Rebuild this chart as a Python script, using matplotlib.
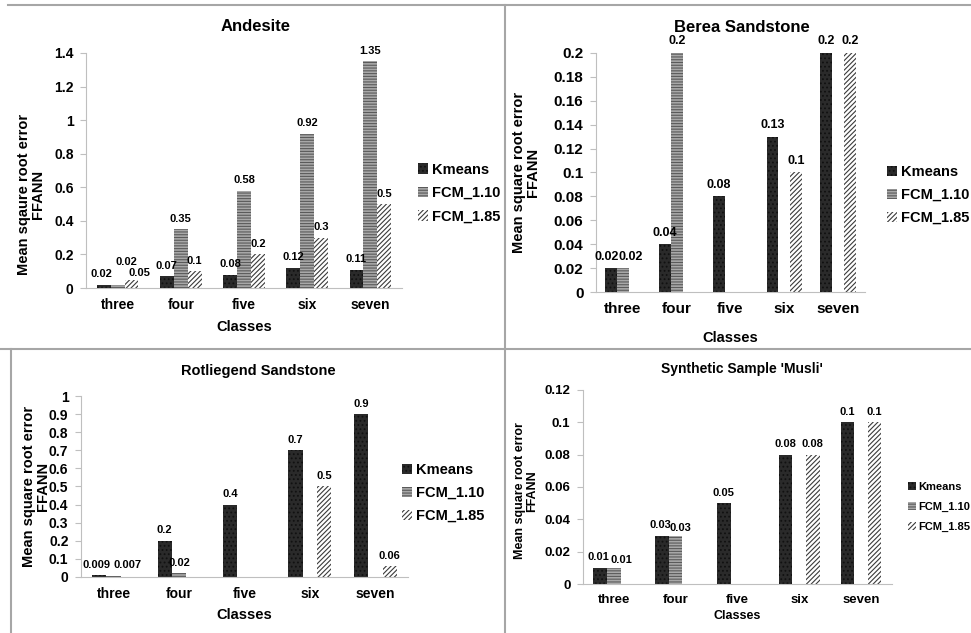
import numpy as np
import matplotlib
matplotlib.use("Agg")
from matplotlib import pyplot as plt
from matplotlib.lines import Line2D
from matplotlib.patches import Patch

plt.rcParams['font.family'] = ['Liberation Sans', 'DejaVu Sans']
plt.rcParams['font.weight'] = 'bold'
plt.rcParams['hatch.linewidth'] = 0.8

classes = ["three", "four", "five", "six", "seven"]
series = ["Kmeans", "FCM_1.10", "FCM_1.85"]
nan = np.nan

andesite_kmeans = [0.02, 0.07, 0.08, 0.12, 0.11]
andesite_fcm110 = [0.02, 0.35, 0.58, 0.92, 1.35]
andesite_fcm185 = [0.05, 0.1, 0.2, 0.3, 0.5]

berea_kmeans = [0.02, 0.04, 0.08, 0.13, 0.2]
berea_fcm110 = [0.02, 0.2, nan, nan, nan]
berea_fcm185 = [nan, nan, nan, 0.1, 0.2]

rotl_kmeans = [0.009, 0.2, 0.4, 0.7, 0.9]
rotl_fcm110 = [0.007, 0.02, nan, nan, nan]
rotl_fcm185 = [nan, nan, nan, 0.5, 0.06]

musli_kmeans = [0.01, 0.03, 0.05, 0.08, 0.1]
musli_fcm110 = [0.01, 0.03, nan, nan, nan]
musli_fcm185 = [nan, nan, nan, 0.08, 0.1]

# bar looks: face, hatch, hatch colour
styles = [
    dict(facecolor="#2a2a2a", hatch="....", edgecolor="#111111"),
    dict(facecolor="#a8a8a8", hatch="------", edgecolor="#5a5a5a"),
    dict(facecolor="white", hatch="///////", edgecolor="#3a3a3a"),
]

fig = plt.figure(figsize=(9.71, 6.33), dpi=100)

# panel separators
line_kw = dict(color="#a6a6a6", lw=1.5, transform=fig.transFigure)
fig.add_artist(Line2D([8 / 971, 1], [1 - 5 / 633] * 2, **line_kw))
fig.add_artist(Line2D([505 / 971] * 2, [0, 1 - 5 / 633], **line_kw))
fig.add_artist(Line2D([0, 1], [1 - 349 / 633] * 2, **line_kw))
fig.add_artist(Line2D([11 / 971] * 2, [0, 1 - 349 / 633], **line_kw))

# label nudges in pixels, keyed (series, class), where Excel spread crowded labels
panels = [
    dict(title="Andesite", data=(andesite_kmeans, andesite_fcm110, andesite_fcm185),
         ylabel="Mean sqaure root error\nFFANN", ymax=1.4, step=0.2,
         rect=[0.0886, 0.545, 0.3254, 0.3713], tpad=16, tsize=12, tx=0.538,
         fs=10, vfs=8, lfs=10.5, legfs=10.5, ylx=-0.13, yly=0.40, xly=-0.135,
         leg=(0.4305, 0.695), lspace=0.65,
         nudge={(0, 0): (-2, 0), (1, 0): (9, 12), (2, 0): (8, -4)}),
    dict(title="Berea Sandstone", data=(berea_kmeans, berea_fcm110, berea_fcm185),
         ylabel="Mean square root error\nFFANN", ymax=0.2, step=0.02,
         rect=[0.6138, 0.5387, 0.2770, 0.3776], tpad=15, tsize=12, tx=0.541,
         fs=11, vfs=9, lfs=10.5, legfs=10.5, ylx=-0.208, yly=0.5, xly=-0.163,
         leg=(0.9135, 0.692), lspace=0.6,
         nudge={(0, 0): (-4, 0), (1, 0): (8, 0)}),
    dict(title="Rotliegend Sandstone", data=(rotl_kmeans, rotl_fcm110, rotl_fcm185),
         ylabel="Mean square root error\nFFANN", ymax=1.0, step=0.1,
         rect=[0.0834, 0.0885, 0.3368, 0.2859], tpad=15, tsize=10.5, tx=0.543,
         fs=10, vfs=8, lfs=10.5, legfs=10.5, ylx=-0.095, yly=0.5, xly=-0.171,
         leg=(0.414, 0.221), lspace=0.6,
         nudge={(0, 0): (-3, 0), (1, 0): (14, 0)}),
    dict(title="Synthetic Sample 'Musli'", data=(musli_kmeans, musli_fcm110, musli_fcm185),
         ylabel="Mean square root error\nFFANN", ymax=0.12, step=0.02,
         rect=[0.6004, 0.0774, 0.3182, 0.3065], tpad=12, tsize=10, tx=0.516,
         fs=9.5, vfs=8, lfs=9, legfs=8, ylx=-0.146, yly=0.48, xly=-0.134,
         leg=(0.935, 0.199), lspace=0.9,
         nudge={(0, 0): (-2, 0), (1, 0): (7, -3), (0, 1): (-2, 0), (1, 1): (5, -3)}),
]

x = np.arange(len(classes))
width = 0.22

for p in panels:
    ax = fig.add_axes(p["rect"])
    for i, (vals, st) in enumerate(zip(p["data"], styles)):
        vals = np.array(vals, dtype=float)
        bars = ax.bar(x + (i - 1) * width, np.nan_to_num(vals), width, linewidth=0, **st)
        for j, (b, v) in enumerate(zip(bars, vals)):
            if np.isnan(v):
                b.set_visible(False)
                continue
            dx, dy = p["nudge"].get((i, j), (0, 0))
            ax.annotate(f"{v:g}", (b.get_x() + b.get_width() / 2, v),
                        xytext=(dx * 0.72, 4 + dy * 0.72), textcoords="offset points",
                        ha="center", va="bottom", fontsize=p["vfs"], fontweight="bold")
    ax.set_xlim(-0.5, len(classes) - 0.5)
    ax.set_ylim(0, p["ymax"])
    yt = np.round(np.arange(0, p["ymax"] + p["step"] / 2, p["step"]), 3)
    ax.set_yticks(yt)
    ax.set_yticklabels([f"{v:g}" for v in yt], fontsize=p["fs"], fontweight="bold")
    ax.set_xticks(x)
    ax.set_xticklabels(classes, fontsize=p["fs"], fontweight="bold")
    ax.tick_params(axis="x", length=0, pad=7)
    ax.tick_params(axis="y", length=4, color="#bfbfbf", pad=5)
    for s in ["top", "right"]:
        ax.spines[s].set_visible(False)
    for s in ["left", "bottom"]:
        ax.spines[s].set_color("#bfbfbf")
    ax.set_title(p["title"], fontsize=p["tsize"], fontweight="bold", pad=p["tpad"], x=p["tx"])
    ax.set_ylabel(p["ylabel"], fontsize=p["lfs"], fontweight="bold", linespacing=1.0)
    ax.yaxis.set_label_coords(p["ylx"], p["yly"])
    ax.set_xlabel("Classes", fontsize=p["lfs"], fontweight="bold")
    ax.xaxis.set_label_coords(0.5, p["xly"])
    handles = [Patch(linewidth=0, label=name, **st) for name, st in zip(series, styles)]
    ax.legend(handles=handles, loc="center left", bbox_to_anchor=p["leg"],
              bbox_transform=fig.transFigure, frameon=False, borderpad=0,
              borderaxespad=0, handlelength=0.7, handleheight=0.7,
              handletextpad=0.25, labelspacing=p["lspace"],
              prop=dict(size=p["legfs"], weight="bold"))

fig.savefig("out.png", dpi=100)
